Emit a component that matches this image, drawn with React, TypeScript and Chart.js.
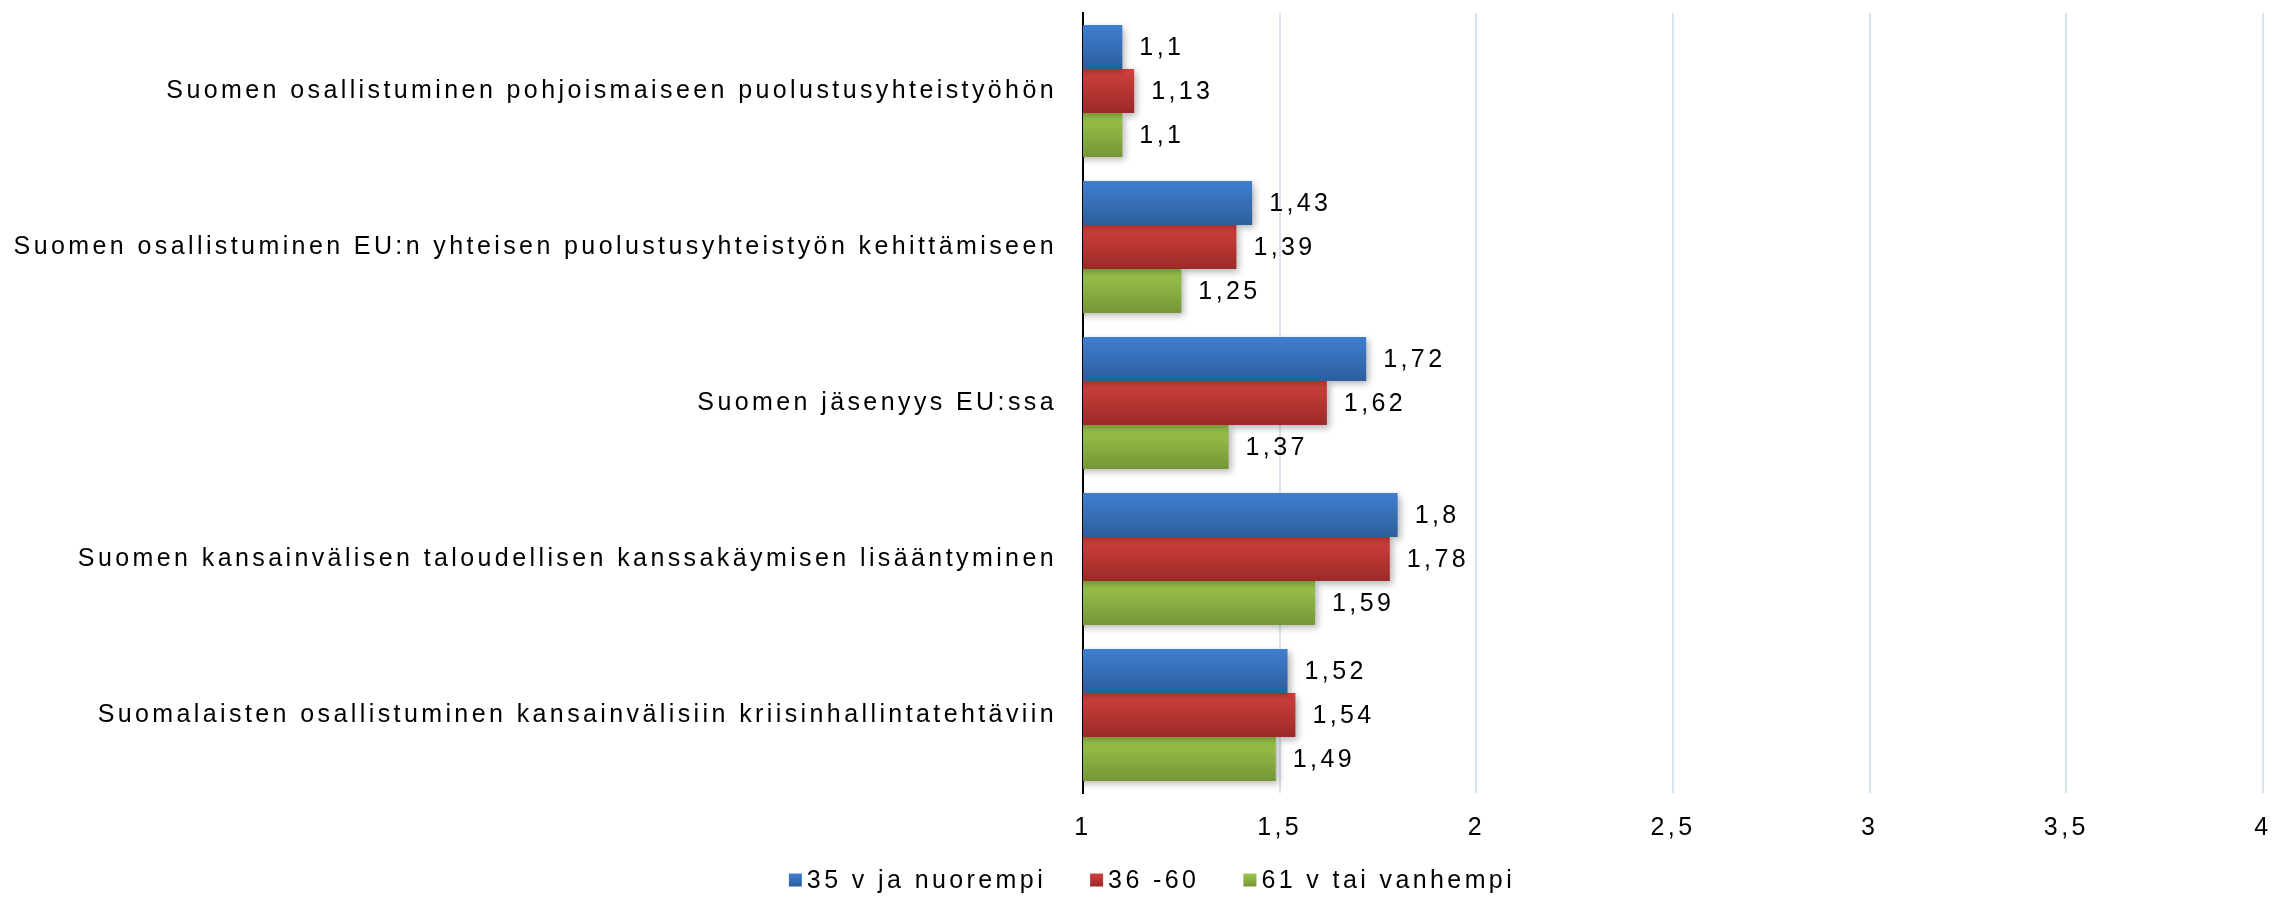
import React, { useEffect, useRef } from 'react';
import { Chart, registerables } from 'chart.js';

Chart.register(...registerables);

const categories = [
  'Suomen osallistuminen pohjoismaiseen puolustusyhteistyöhön',
  'Suomen osallistuminen EU:n yhteisen puolustusyhteistyön kehittämiseen',
  'Suomen jäsenyys EU:ssa',
  'Suomen kansainvälisen taloudellisen kanssakäymisen lisääntyminen',
  'Suomalaisten osallistuminen kansainvälisiin kriisinhallintatehtäviin',
];
const seriesNames = ['35 v ja nuorempi', '36 -60', '61 v tai vanhempi'];
const young = [1.1, 1.43, 1.72, 1.8, 1.52];
const middle = [1.13, 1.39, 1.62, 1.78, 1.54];
const old = [1.1, 1.25, 1.37, 1.59, 1.49];
const xTicks = [1, 1.5, 2, 2.5, 3, 3.5, 4];

const seriesValues = [young, middle, old];
const seriesColors: [string, string][] = [
  ['#3f7fd0', '#2d5e9d'],
  ['#d2403d', '#9b2a28'],
  ['#9dc74b', '#759636'],
];

const W = 2272;
const H = 897;
const FONT = '"Liberation Sans", Arial, sans-serif';
const FS = 25;
const LS = '3.4px';
const CAT_PCT = 0.846;
const PLOT_LEFT = 1083;

const fmt = (v: number) => String(v).replace('.', ',');

const makeBg = (si: number) => (ctx: any) => {
  const chart = ctx.chart;
  const ys = chart.scales && chart.scales.y;
  if (!chart.chartArea || !ys || ctx.dataIndex === undefined || ctx.type !== 'data') return seriesColors[si][0];
  const band = (ys.bottom - ys.top) / categories.length;
  const h = (band * CAT_PCT) / 3;
  const c = ys.getPixelForValue(ctx.dataIndex);
  const top = c - 1.5 * h + si * h;
  const g = chart.ctx.createLinearGradient(0, top, 0, top + h);
  g.addColorStop(0, seriesColors[si][0]);
  g.addColorStop(1, seriesColors[si][1]);
  return g;
};

const spacingPlugin = {
  id: 'spacing',
  beforeUpdate(chart: any) { chart.ctx.letterSpacing = LS; },
  beforeLayout(chart: any) { chart.ctx.letterSpacing = LS; },
  beforeDraw(chart: any) { chart.ctx.letterSpacing = LS; },
};

const barDecor = {
  id: 'barDecor',
  beforeDatasetsDraw(chart: any) {
    const ctx = chart.ctx;
    ctx.save();
    ctx.shadowColor = 'rgba(0,0,0,0.3)';
    ctx.shadowBlur = 7;
    ctx.shadowOffsetX = 3;
    ctx.shadowOffsetY = 3;
  },
  afterDatasetsDraw(chart: any) {
    const ctx = chart.ctx;
    ctx.restore();
    ctx.save();
    ctx.letterSpacing = LS;
    ctx.font = `${FS}px ${FONT}`;
    ctx.fillStyle = '#000';
    ctx.textAlign = 'left';
    ctx.textBaseline = 'middle';
    chart.data.datasets.forEach((ds: any, di: number) => {
      const meta = chart.getDatasetMeta(di);
      meta.data.forEach((el: any, i: number) => {
        ctx.fillText(fmt(ds.data[i]), el.x + 17, el.y + 1);
      });
    });
    ctx.restore();
  },
  afterDraw(chart: any) {
    const ctx = chart.ctx;
    ctx.save();
    ctx.letterSpacing = LS;
    ctx.font = `${FS}px ${FONT}`;
    ctx.textBaseline = 'middle';
    ctx.textAlign = 'left';
    const box = 13;
    const gapText = 5;
    const gapItem = 44;
    const widths = seriesNames.map((n) => ctx.measureText(n).width);
    const total = widths.reduce((a, w) => a + box + gapText + w, 0) + gapItem * (seriesNames.length - 1);
    let x = chart.width / 2 + 16 - total / 2;
    const cy = 880;
    seriesNames.forEach((n, i) => {
      const g = ctx.createLinearGradient(0, cy - box / 2, 0, cy + box / 2);
      g.addColorStop(0, seriesColors[i][0]);
      g.addColorStop(1, seriesColors[i][1]);
      ctx.fillStyle = g;
      ctx.fillRect(x, cy - box / 2, box, box);
      x += box + gapText;
      ctx.fillStyle = '#000';
      ctx.fillText(n, x, cy + 1);
      x += widths[i] + gapItem;
    });
    ctx.restore();
  },
};

export default function App() {
  const ref = useRef<HTMLCanvasElement | null>(null);
  useEffect(() => {
    document.body.style.margin = '0';
    Chart.defaults.font.family = FONT;
    Chart.defaults.font.size = FS;
    Chart.defaults.color = '#000';
    const canvas = ref.current!;
    const chart = new Chart(canvas, {
      type: 'bar',
      data: {
        labels: categories,
        datasets: seriesNames.map((name, si) => ({
          label: name,
          data: seriesValues[si],
          backgroundColor: makeBg(si),
          borderWidth: 0,
          categoryPercentage: CAT_PCT,
          barPercentage: 1,
        })),
      },
      options: {
        indexAxis: 'y',
        responsive: false,
        animation: false,
        devicePixelRatio: 1,
        layout: { padding: { top: 13, bottom: 44, left: 0, right: 0 } },
        plugins: {
          legend: { display: false },
          tooltip: { enabled: false },
        },
        scales: {
          x: {
            min: 1,
            max: 4,
            afterBuildTicks: (scale: any) => {
              scale.ticks = xTicks.map((v) => ({ value: v }));
            },
            ticks: {
              callback: (v: any) => fmt(Number(v)),
              padding: 20,
              font: { size: FS, family: FONT },
              color: '#000',
              maxRotation: 0,
            },
            grid: { color: '#d9e4f1', lineWidth: 2, drawTicks: false },
            border: { display: false },
            afterFit: (scale: any) => {
              scale.height = 60;
              scale.paddingRight = 9;
              scale.paddingLeft = 0;
            },
          },
          y: {
            z: 1,
            grid: { display: false, drawTicks: false },
            border: { display: true, color: '#000', width: 2 },
            ticks: {
              padding: 26,
              font: { size: FS, family: FONT },
              color: '#000',
            },
            afterFit: (scale: any) => {
              scale.width = PLOT_LEFT;
              scale.paddingTop = 0;
              scale.paddingBottom = 0;
            },
          },
        },
      },
      plugins: [spacingPlugin, barDecor],
    } as any);
    return () => chart.destroy();
  }, []);
  return (
    <canvas ref={ref} width={W} height={H} style={{ display: 'block', width: W + 'px', height: H + 'px' }} />
  );
}
